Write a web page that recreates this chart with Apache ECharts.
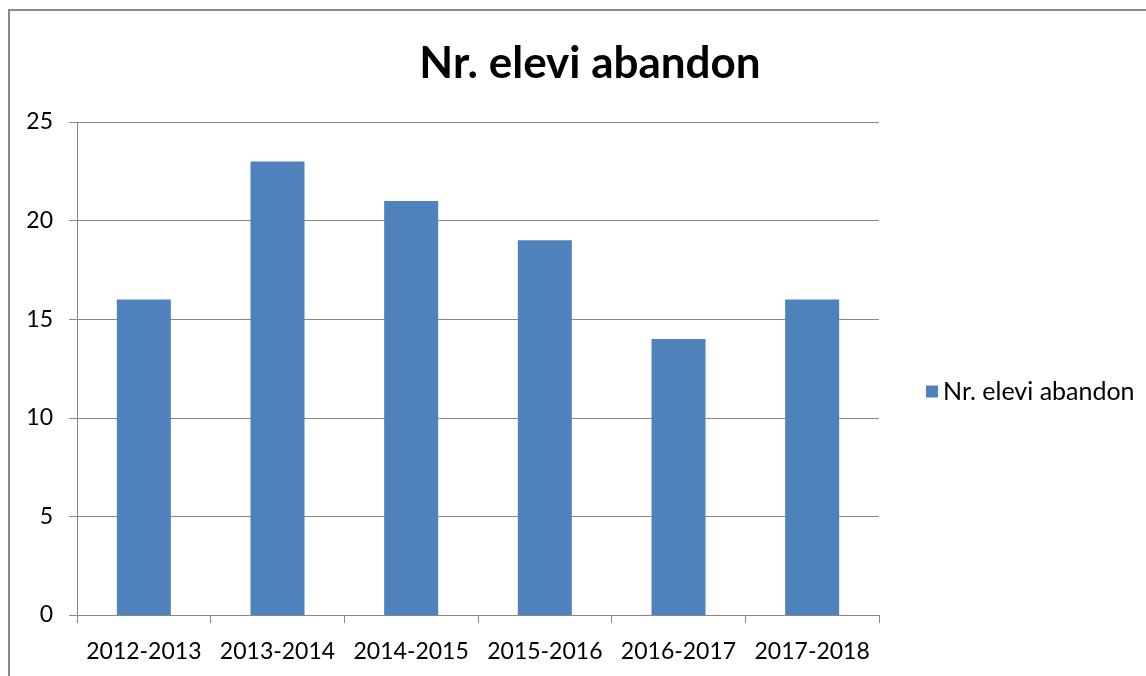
<!DOCTYPE html>
<html>
<head>
<meta charset="utf-8">
<script src="https://cdn.jsdelivr.net/npm/echarts@6/dist/echarts.min.js"></script>
<style>
  html, body { margin: 0; padding: 0; background: #fff; }
  #chart { width: 1146px; height: 676px; }
</style>
</head>
<body>
<div id="chart"></div>
<script>
// date
const seriesName = 'Nr. elevi abandon'
const years = ['2012-2013', '2013-2014', '2014-2015', '2015-2016', '2016-2017', '2017-2018']
const abandonValues = [16, 23, 21, 19, 14, 16]

const fontFamily = 'Lato, "Open Sans", sans-serif'

const myChart = echarts.init(document.getElementById('chart'))

const option = {
  backgroundColor: '#fff',
  animation: false,
  title: {
    text: seriesName,
    left: 585,
    textAlign: 'center',
    top: 37,
    textStyle: { fontFamily: fontFamily, fontSize: 44, fontWeight: 'bold', color: '#000' },
  },
  legend: {
    data: [seriesName],
    left: 921,
    top: 374,
    icon: 'rect',
    itemWidth: 12,
    itemHeight: 12,
    itemGap: 8,
    textStyle: { fontFamily: fontFamily, fontSize: 25, color: '#000' },
  },
  grid: {
    left: 77,
    right: 267,
    top: 122,
    bottom: 61,
    containLabel: false,
  },
  xAxis: {
    type: 'category',
    data: years,
    axisLine: { lineStyle: { color: '#888', width: 1 } },
    axisTick: { show: true, length: 8, alignWithLabel: false, lineStyle: { color: '#888' } },
    axisLabel: { interval: 0, fontFamily: fontFamily, fontSize: 23, color: '#000', margin: 25 },
  },
  yAxis: {
    type: 'value',
    min: 0,
    max: 25,
    interval: 5,
    axisLine: { show: true, lineStyle: { color: '#888', width: 1 } },
    axisTick: { show: true, length: 8, lineStyle: { color: '#888' } },
    axisLabel: { fontFamily: fontFamily, fontSize: 23, color: '#000', margin: 24 },
    splitLine: { lineStyle: { color: '#888', width: 1 } },
  },
  series: [
    {
      name: seriesName,
      type: 'bar',
      data: abandonValues,
      barWidth: 54,
      itemStyle: { color: '#4F81BD' },
    },
  ],
  graphic: [
    {
      type: 'rect',
      shape: { x: 9, y: 10, width: 1200, height: 800 },
      style: { fill: 'none', stroke: '#888', lineWidth: 2 },
      z: -1,
    },
  ],
}

myChart.setOption(option)
</script>
</body>
</html>
